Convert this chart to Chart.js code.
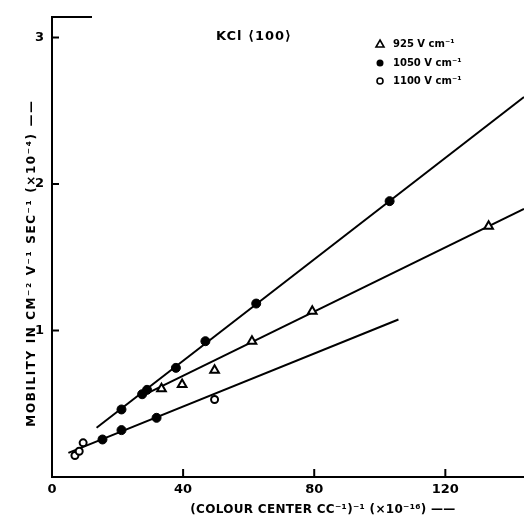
<!DOCTYPE html>
<html>
<head>
<meta charset="utf-8">
<script src="https://cdn.jsdelivr.net/npm/chart.js@4.4.1/dist/chart.umd.min.js"></script>
<style>
  html, body { margin: 0; padding: 0; background: #fff; }
  #wrap { width: 524px; height: 524px; position: relative; }
</style>
</head>
<body>
<div id="wrap"><canvas id="chart" width="524" height="524"></canvas></div>
<script>
const field925X = [33.4, 39.7, 49.6, 61.0, 79.4, 133.2];
const field925Y = [0.602, 0.631, 0.729, 0.927, 1.132, 1.712];

const field1050X = [15.4, 21.2, 21.2, 27.5, 29.0, 31.9, 37.8, 46.8, 62.3, 103.0];
const field1050Y = [0.256, 0.320, 0.461, 0.565, 0.595, 0.404, 0.745, 0.927, 1.184, 1.883];

const field1100X = [7.0, 8.3, 9.5, 49.6];
const field1100Y = [0.147, 0.176, 0.233, 0.529];

// 直線 (始点と終点)
const fit1050X = [13.6, 144];
const fit1050Y = [0.336, 2.594];
const fit925X = [27.3, 144];
const fit925Y = [0.552, 1.830];
const fit1100X = [5.0, 105.7];
const fit1100Y = [0.165, 1.075];

const xTicks = [0, 40, 80, 120];
const yTicks = [1, 2, 3];

const legendLabels = ["925 V cm\u207B\u00B9", "1050 V cm\u207B\u00B9", "1100 V cm\u207B\u00B9"];
const sampleLabel = "KCl \u27E8100\u27E9";
const xTitle = "(COLOUR CENTER CC\u207B\u00B9)\u207B\u00B9 (\u00D710\u207B\u00B9\u2076) \u2014\u2014";
const yTitle = "MOBILITY IN CM\u207B\u00B2 V\u207B\u00B9 SEC\u207B\u00B9 (\u00D710\u207B\u2074) \u2014\u2014";

const FONT = "'DejaVu Sans', sans-serif";

function toPoints(xs, ys) {
    return xs.map((x, i) => ({ x: x, y: ys[i] }));
}

function lineSet(xs, ys) {
    return {
        type: "line",
        data: toPoints(xs, ys),
        borderColor: "#000",
        borderWidth: 2,
        pointRadius: 0,
        fill: false,
        tension: 0
    };
}

// 目盛り・タイトル・凡例を描くプラグイン
const decorPlugin = {
    id: "decor",
    afterDraw(chart) {
        const ctx = chart.ctx;
        const xs = chart.scales.x;
        const ys = chart.scales.y;
        const area = chart.chartArea;
        ctx.save();
        ctx.strokeStyle = "#000";
        ctx.fillStyle = "#000";
        ctx.lineWidth = 2;

        // 内向きの目盛り
        xTicks.forEach(v => {
            if (v === 0) return;
            const px = xs.getPixelForValue(v);
            ctx.beginPath();
            ctx.moveTo(px, area.bottom);
            ctx.lineTo(px, area.bottom - 8);
            ctx.stroke();
        });
        yTicks.forEach(v => {
            const py = ys.getPixelForValue(v);
            ctx.beginPath();
            ctx.moveTo(area.left, py);
            ctx.lineTo(area.left + 7, py);
            ctx.stroke();
        });

        // 上端の短い線
        ctx.beginPath();
        ctx.moveTo(area.left - 1, area.top);
        ctx.lineTo(area.left + 40, area.top);
        ctx.stroke();

        // 軸タイトル
        ctx.font = "bold 12px " + FONT;
        ctx.textAlign = "center";
        ctx.textBaseline = "middle";
        ctx.letterSpacing = "0.3px";
        ctx.fillText(xTitle, 323, 510);

        ctx.letterSpacing = "1.6px";
        ctx.save();
        ctx.translate(32, 263);
        ctx.rotate(-Math.PI / 2);
        ctx.fillText(yTitle, 0, 0);
        ctx.restore();

        // 試料名
        ctx.font = "bold 13px " + FONT;
        ctx.letterSpacing = "1px";
        ctx.textAlign = "left";
        ctx.fillText(sampleLabel, 216, 37);

        // 凡例
        ctx.letterSpacing = "0px";
        const lx = 380;
        const ly = [44, 63, 81];
        ctx.lineWidth = 1.6;
        // 三角
        ctx.beginPath();
        ctx.moveTo(lx, ly[0] - 4);
        ctx.lineTo(lx + 4, ly[0] + 3);
        ctx.lineTo(lx - 4, ly[0] + 3);
        ctx.closePath();
        ctx.stroke();
        // 黒丸
        ctx.beginPath();
        ctx.arc(lx, ly[1], 3.5, 0, Math.PI * 2);
        ctx.fill();
        // 白丸
        ctx.beginPath();
        ctx.arc(lx, ly[2], 3, 0, Math.PI * 2);
        ctx.stroke();

        ctx.font = "bold 10px " + FONT;
        legendLabels.forEach((t, i) => ctx.fillText(t, 393, ly[i]));
        ctx.restore();
    }
};

const ctx = document.getElementById("chart").getContext("2d");
new Chart(ctx, {
    type: "scatter",
    data: {
        datasets: [
            {
                label: legendLabels[0],
                data: toPoints(field925X, field925Y),
                pointStyle: "triangle",
                pointRadius: 5,
                pointBorderWidth: 2,
                pointBorderColor: "#000",
                pointBackgroundColor: "#fff"
            },
            {
                label: legendLabels[1],
                data: toPoints(field1050X, field1050Y),
                pointStyle: "circle",
                pointRadius: 4.5,
                pointBorderWidth: 1,
                pointBorderColor: "#000",
                pointBackgroundColor: "#000"
            },
            {
                label: legendLabels[2],
                data: toPoints(field1100X, field1100Y),
                pointStyle: "circle",
                pointRadius: 3.5,
                pointBorderWidth: 2,
                pointBorderColor: "#000",
                pointBackgroundColor: "#fff"
            },
            lineSet(fit1050X, fit1050Y),
            lineSet(fit925X, fit925Y),
            lineSet(fit1100X, fit1100Y)
        ]
    },
    options: {
        responsive: false,
        animation: false,
        events: [],
        layout: {
            autoPadding: false,
            padding: { top: 17, right: 0, left: 0, bottom: 0 }
        },
        plugins: {
            legend: { display: false },
            tooltip: { enabled: false }
        },
        scales: {
            x: {
                type: "linear",
                min: 0,
                max: 144,
                afterFit: s => { s.height = 47; s.paddingRight = 0; s.paddingLeft = 0; },
                afterBuildTicks: s => { s.ticks = xTicks.map(v => ({ value: v })); },
                grid: { display: false, drawTicks: false },
                border: { display: true, color: "#000", width: 2 },
                ticks: {
                    color: "#000",
                    padding: 5,
                    font: { family: FONT, size: 13, weight: "bold" }
                }
            },
            y: {
                type: "linear",
                min: 0,
                max: 3.14,
                afterFit: s => { s.width = 52; s.paddingTop = 0; s.paddingBottom = 0; },
                afterBuildTicks: s => { s.ticks = yTicks.map(v => ({ value: v })); },
                grid: { display: false, drawTicks: false },
                border: { display: true, color: "#000", width: 2 },
                ticks: {
                    color: "#000",
                    padding: 8,
                    font: { family: FONT, size: 13, weight: "bold" }
                }
            }
        }
    },
    plugins: [decorPlugin]
});
</script>
</body>
</html>
